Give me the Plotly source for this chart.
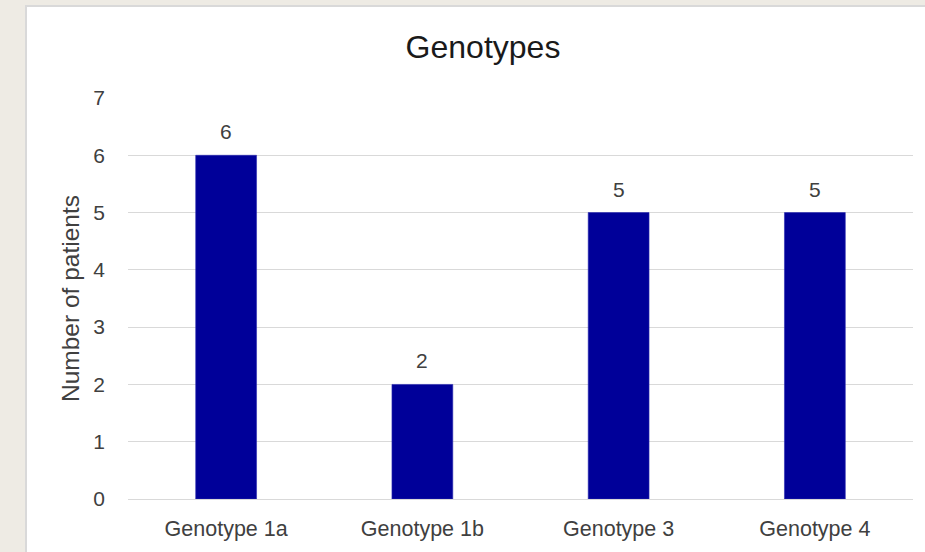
import plotly.graph_objects as go

categories = ["Genotype 1a", "Genotype 1b", "Genotype 3", "Genotype 4"]
patients = [6, 2, 5, 5]
y_ticks = [0, 1, 2, 3, 4, 5, 6, 7]

BAR = "#000099"
GRID = "#D9D9D9"
TXT = "#404040"
FONT = "Liberation Sans, Arial, sans-serif"

fig = go.Figure()
fig.add_trace(go.Bar(
    x=categories, y=patients,
    marker=dict(color=BAR, line=dict(color="#2a2ab0", width=0.6)),
    hoverinfo="x+y",
))

for c, v in zip(categories, patients):
    fig.add_annotation(x=c, y=v, text=str(v), showarrow=False,
                       yanchor="bottom", yshift=10,
                       font=dict(family=FONT, size=21, color=TXT))

L, R, T, B = 128, 12, 98, 53
W, H = 925, 552
pw, ph = W - L - R, H - T - B

def px(x):
    return (x - L) / pw

def py(y):
    return (H - B - y) / ph

fig.add_shape(type="rect", xref="paper", yref="paper",
              x0=px(26), x1=px(940), y0=py(6), y1=py(570),
              fillcolor="white", line=dict(color=GRID, width=2), layer="below")

fig.update_layout(
    width=W, height=H,
    margin=dict(l=L, r=R, t=T, b=B, autoexpand=False),
    paper_bgcolor="#EEEBE4",
    plot_bgcolor="rgba(0,0,0,0)",
    bargap=0.69,
    showlegend=False,
    title=dict(text="Genotypes", x=483 / W, xref="container", xanchor="center",
               y=1 - 47 / H, yref="container", yanchor="middle",
               font=dict(family=FONT, size=32, color="#1a1a1a")),
    font=dict(family=FONT, color=TXT),
)
fig.update_xaxes(showgrid=False, showline=False, ticks="",
                 tickfont=dict(family=FONT, size=21.5, color=TXT),
                 ticklabelstandoff=14, automargin=False)
fig.update_yaxes(range=[0, 7], tickvals=y_ticks, showgrid=True, gridcolor=GRID,
                 gridwidth=1, zeroline=True, zerolinecolor=GRID, zerolinewidth=1,
                 showline=False, ticks="",
                 tickfont=dict(family=FONT, size=21, color=TXT),
                 ticklabelstandoff=22, automargin=False,
                 title=dict(text="Number of patients", standoff=6,
                            font=dict(family=FONT, size=24.5, color=TXT)))

fig.write_html("out.html", config={"displayModeBar": False},
               post_script="document.body.style.margin='0';document.body.style.overflow='hidden';")
